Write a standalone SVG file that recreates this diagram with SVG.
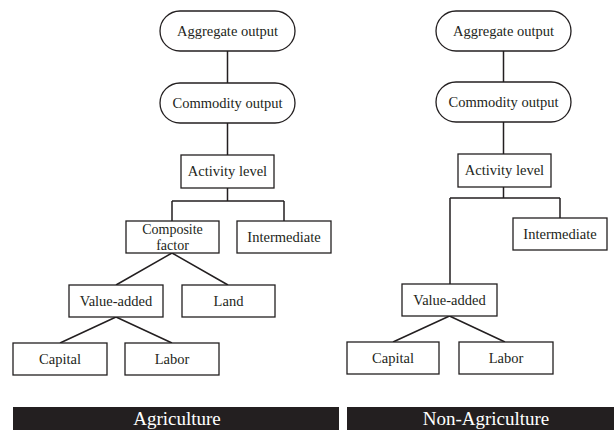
<svg xmlns="http://www.w3.org/2000/svg" width="614" height="430" viewBox="0 0 614 430">
<style>
.n{fill:#fff;stroke:#231f20;stroke-width:1.3}
.t{font-family:"Liberation Serif","Times New Roman",serif;font-size:14.5px;fill:#231f20;text-anchor:middle}
.s{font-size:14px}
.c{fill:none;stroke:#231f20;stroke-width:1.5}
.b{fill:#231f20}
.bt{font-family:"Liberation Serif","Times New Roman",serif;font-size:19px;fill:#fff;text-anchor:middle}
</style>
<rect width="614" height="430" fill="#fff"/>
<g id="connectors">
<path class="c" d="M227.5 51V83M227.5 123V155M227.5 188V201M172 201H284M172 201V221M284 201V221M172 253L116 285M172 253L228 285M116 317L60 343M116 317L172 343"/>
<path class="c" d="M503.5 51V82M503.5 122V154M503.5 187V198M450 198H560M450 198V284M560 198V218M449.5 316L393 342M449.5 316L505 342"/>
</g>
<g id="agg-l"><rect class="n" x="160" y="11" width="135" height="40" rx="20"/><text class="t" x="227.5" y="36">Aggregate output</text></g>
<g id="com-l"><rect class="n" x="160" y="83" width="135" height="40" rx="20"/><text class="t" x="227.5" y="108">Commodity output</text></g>
<g id="act-l"><rect class="n" x="181" y="155" width="93" height="33"/><text class="t" x="227.5" y="176">Activity level</text></g>
<g id="cf-l"><rect class="n" x="126" y="221" width="93" height="32"/><text class="t s" x="172.5" y="234">Composite</text><text class="t s" x="172.5" y="249.5">factor</text></g>
<g id="int-l"><rect class="n" x="237" y="221" width="94" height="32"/><text class="t" x="284" y="242">Intermediate</text></g>
<g id="va-l"><rect class="n" x="69" y="285" width="94" height="32"/><text class="t" x="116" y="306">Value-added</text></g>
<g id="land-l"><rect class="n" x="182" y="285" width="93" height="32"/><text class="t" x="228.5" y="306">Land</text></g>
<g id="cap-l"><rect class="n" x="13" y="343" width="94" height="32"/><text class="t" x="60" y="364">Capital</text></g>
<g id="lab-l"><rect class="n" x="125" y="343" width="94" height="32"/><text class="t" x="172" y="364">Labor</text></g>
<g id="agg-r"><rect class="n" x="436" y="11" width="135" height="40" rx="20"/><text class="t" x="503.5" y="36">Aggregate output</text></g>
<g id="com-r"><rect class="n" x="436" y="82" width="135" height="40" rx="20"/><text class="t" x="503.5" y="107">Commodity output</text></g>
<g id="act-r"><rect class="n" x="458" y="154" width="93" height="33"/><text class="t" x="504.5" y="175">Activity level</text></g>
<g id="int-r"><rect class="n" x="513" y="218" width="94" height="32"/><text class="t" x="560" y="239">Intermediate</text></g>
<g id="va-r"><rect class="n" x="402" y="284" width="95" height="32"/><text class="t" x="449.5" y="305">Value-added</text></g>
<g id="cap-r"><rect class="n" x="347" y="342" width="92" height="32"/><text class="t" x="393" y="363">Capital</text></g>
<g id="lab-r"><rect class="n" x="459" y="342" width="94" height="32"/><text class="t" x="506" y="363">Labor</text></g>
<g id="ban-agri"><rect class="b" x="13" y="407" width="326" height="23"/><text class="bt" x="177" y="425">Agriculture</text></g>
<g id="ban-nonagri"><rect class="b" x="347" y="407" width="267" height="23"/><text class="bt" x="486" y="425">Non-Agriculture</text></g>
</svg>
